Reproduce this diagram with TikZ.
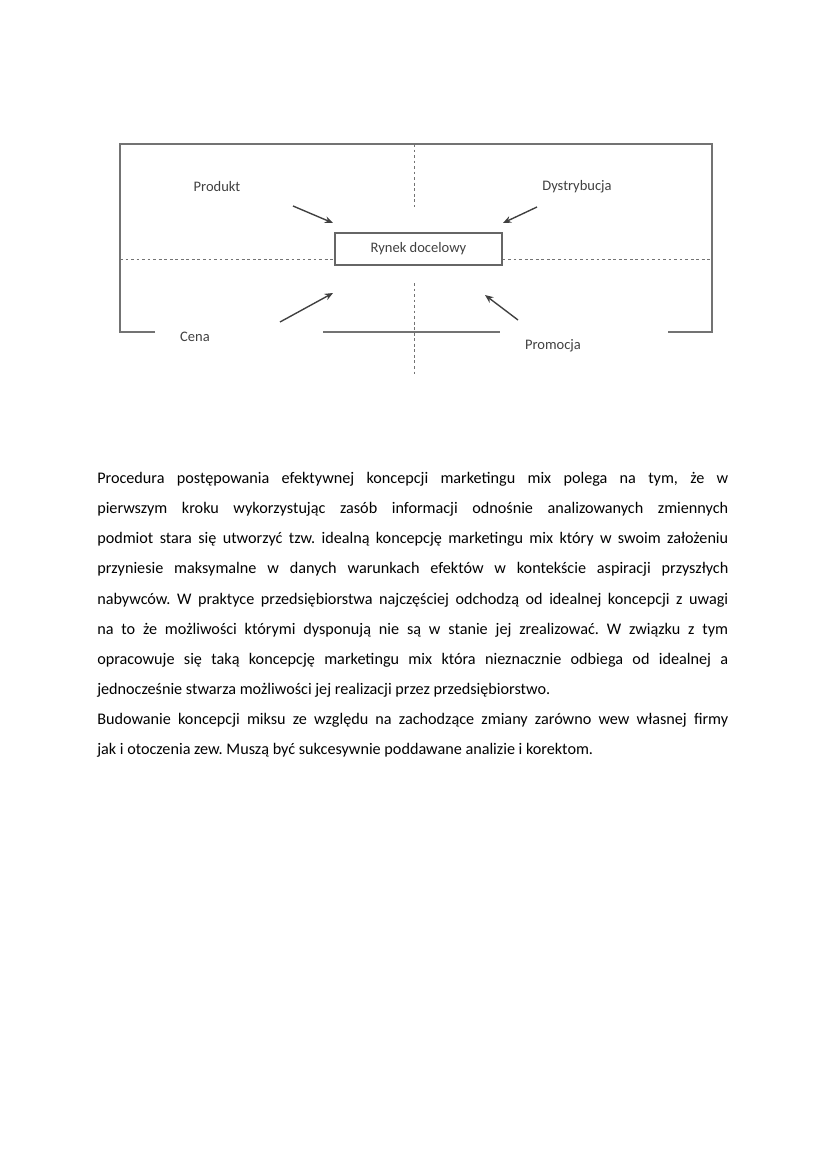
\documentclass[tikz,border=0pt]{standalone}
\usepackage{fontspec}
\setmainfont{Carlito}
\usetikzlibrary{arrows.meta}

\begin{document}
\begin{tikzpicture}[x=0.0254cm,y=-0.0254cm]
	\tikzset{
	  LabelStyle/.style = { font = \fontsize{10.5}{12}\selectfont, text = black!75 },
	  BoxStyle/.style = { draw = black!60, line width = 1pt, inner sep = 0pt,
	                      minimum width = 4.24cm, minimum height = 0.81cm },
	  FrameStyle/.style = { draw = black!55, line width = 1.1pt },
	  AxisStyle/.style = { draw = black!55, line width = 0.6pt,
	                       dash pattern = on 2pt off 2pt },
	  ArrowStyle/.style = { draw = black!75, line width = 1pt,
	                        -{Stealth[length=6pt, width=5pt]} },
	  BodyStyle/.style = { anchor = north west, inner sep = 0pt, text width = 16.03cm,
	                       align = justify, text = black,
	                       font = \fontsize{11.7}{21.8}\selectfont\frenchspacing } }
	\useasboundingbox (0,0) rectangle (827,1169);
	\node[BoxStyle, LabelStyle] (market) at (418.5,249) {Rynek docelowy};
	\node[LabelStyle] (product) at (217,187) {Produkt};
	\node[LabelStyle] (place) at (577,187) {Dystrybucja};
	\node[LabelStyle] (price) at (195,337) {Cena};
	\node[LabelStyle] (promotion) at (553,346) {Promocja};
	\coordinate (frameSW) at (120,332);
	\coordinate (frameNW) at (120,144);
	\coordinate (frameNE) at (712,144);
	\coordinate (frameSE) at (712,332);
	\draw[FrameStyle] (155,332) -- (frameSW) -- (frameNW) -- (frameNE) -- (frameSE) -- (668,332);
	\draw[FrameStyle] (323,332) -- (500,332);
	\draw[AxisStyle] (120,259) -- (market.west |- 0,259);
	\draw[AxisStyle] (market.east |- 0,259) -- (712,259);
	\draw[AxisStyle] (414,144) -- (414,207);
	\draw[AxisStyle] (414,283) -- (414,377);
	\coordinate (productTail) at (293,206);
	\coordinate (productHead) at (333,223);
	\coordinate (placeTail) at (537,207);
	\coordinate (placeHead) at (503,223);
	\coordinate (priceTail) at (280,322);
	\coordinate (priceHead) at (333,293);
	\coordinate (promotionTail) at (518,320);
	\coordinate (promotionHead) at (485,295);
	\draw[ArrowStyle] (productTail) -- (productHead);
	\draw[ArrowStyle] (placeTail) -- (placeHead);
	\draw[ArrowStyle] (priceTail) -- (priceHead);
	\draw[ArrowStyle] (promotionTail) -- (promotionHead);
	\node[BodyStyle] (body) at (97,472) {Procedura postępowania efektywnej koncepcji marketingu mix polega na tym, że w\linebreak
	pierwszym kroku wykorzystując zasób informacji odnośnie analizowanych zmiennych\linebreak
	podmiot stara się utworzyć tzw. idealną koncepcję marketingu mix który w swoim założeniu\linebreak
	przyniesie maksymalne w danych warunkach efektów w kontekście aspiracji przyszłych\linebreak
	nabywców. W praktyce przedsiębiorstwa najczęściej odchodzą od idealnej koncepcji z uwagi\linebreak
	na to że możliwości którymi dysponują nie są w stanie jej zrealizować. W związku z tym\linebreak
	opracowuje się taką koncepcję marketingu mix która nieznacznie odbiega od idealnej a\linebreak
	jednocześnie stwarza możliwości jej realizacji przez przedsiębiorstwo.\par
	Budowanie koncepcji miksu ze względu na zachodzące zmiany zarówno wew własnej firmy\linebreak
	jak i otoczenia zew. Muszą być sukcesywnie poddawane analizie i korektom.};
\end{tikzpicture}
\end{document}
